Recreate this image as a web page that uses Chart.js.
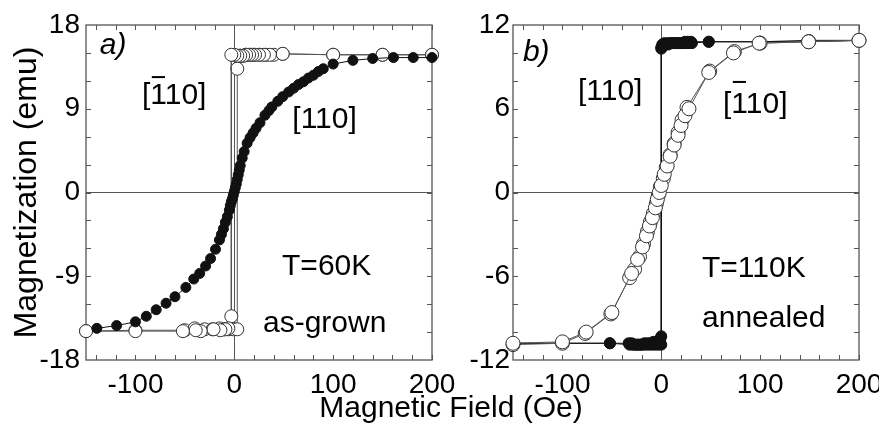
<!DOCTYPE html>
<html>
<head>
<meta charset="utf-8">
<script src="https://cdn.jsdelivr.net/npm/chart.js@4.4.1/dist/chart.umd.min.js"></script>
<style>
  html, body { margin: 0; padding: 0; background: #fff; overflow: hidden; }
  body { width: 879px; height: 426px; position: relative; }
  #panelA { position: absolute; left: 0; top: 0; }
  #panelB { position: absolute; left: 440px; top: 0; }
  #fieldTitle {
    position: absolute; left: 0; width: 902px; top: 392px;
    text-align: center; color: #000;
    font: 30px 'Liberation Sans', Arial, sans-serif; line-height: 30px;
  }
</style>
</head>
<body>
<canvas id="panelA" width="470" height="426"></canvas>
<canvas id="panelB" width="460" height="426"></canvas>
<div id="fieldTitle">Magnetic Field (Oe)</div>
<script>
// a) as-grown, T=60K -- [110] (filled)
const fieldA110 = [-139,-119,-100,-89,-79,-69,-60,-49,-41,-35,-29,-24,-19,-15,-13,-11,-9,-7,-5,-4,-3,-2,-1,0,1,2,3,4,5,6,8,10,13,16,19,22,26,31,35,38,44,49,55,60,65,70,75,80,85,90,100,120,140,161,181,200];
const magA110 = [-14.6,-14.3,-13.9,-13.3,-12.6,-11.9,-11.2,-10.2,-9.3,-8.7,-7.9,-7.1,-6.1,-5.1,-4.5,-3.9,-3.2,-2.6,-1.9,-1.4,-1.0,-0.7,-0.3,0.1,0.5,0.9,1.4,1.9,2.4,2.9,3.7,4.4,5.3,5.9,6.4,6.9,7.5,8.3,8.8,9.2,9.8,10.3,10.8,11.2,11.6,11.9,12.3,12.6,13.0,13.3,13.8,14.2,14.4,14.5,14.5,14.5];

// a) [-110] (open), down and up sweeps
const fieldA1b10Down = [200,150,100,49,36,30,25,21,18,15,12,9,6,3,0,-3,-3,-6,-9,-14,-21,-34,-39,-52,-100,-150];
const magA1b10Down = [14.8,14.8,14.8,14.9,14.8,14.8,14.8,14.8,14.8,14.8,14.8,14.7,14.7,14.7,14.8,14.8,-13.3,-14.6,-14.7,-14.8,-14.7,-14.9,-14.8,-14.9,-14.9,-14.9];
const fieldA1b10Up = [-150,-100,-50,-40,-30,-22,-15,-10,-6,-1,3,3,6,9,12,16,20,26,32,40,49,100,150,200];
const magA1b10Up = [-14.9,-14.8,-14.8,-14.6,-14.7,-14.7,-14.6,-14.7,-14.7,-14.7,-14.7,13.3,14.7,14.7,14.8,14.8,14.8,14.8,14.8,14.8,14.9,14.8,14.8,14.8];

// b) annealed, T=110K -- [110] (filled), down and up sweeps
const fieldB110Down = [200,150,100,48,31,28,25,22,19,16,13,10,7,4,2,0,0,-3,-6,-9,-12,-15,-18,-21,-24,-27,-30,-33,-52,-100,-150];
const magB110Down = [10.9,10.8,10.8,10.8,10.7,10.7,10.7,10.7,10.7,10.7,10.7,10.7,10.6,10.6,10.5,10.3,-10.9,-10.9,-10.9,-10.9,-10.9,-10.9,-10.9,-10.9,-10.9,-10.9,-10.8,-10.8,-10.8,-10.8,-10.8];
const fieldB110Up = [-150,-100,-52,-32,-29,-26,-23,-20,-17,-14,-11,-8,-5,-3,-1,0,0,1,3,6,9,12,15,18,21,24,27,30,48,100,150,200];
const magB110Up = [-10.8,-10.8,-10.8,-10.9,-10.9,-10.9,-10.9,-10.9,-10.8,-10.8,-10.8,-10.7,-10.7,-10.6,-10.5,-10.3,10.4,10.6,10.7,10.7,10.7,10.7,10.7,10.7,10.7,10.8,10.8,10.8,10.8,10.8,10.9,10.9];

// b) [-110] (open)
const fieldB1b10Up = [-150,-100,-76,-50,-30,-24,-19,-15,-12,-9,-6,-4,-2,0,3,6,9,13,17,20,24,28,48,73,99,149,200];
const magB1b10Up = [-10.8,-10.7,-10.0,-8.6,-5.8,-4.8,-3.9,-3.1,-2.4,-1.8,-1.1,-0.5,0.0,0.5,1.3,1.9,2.6,3.4,4.1,4.8,5.5,6.0,8.6,10.0,10.7,10.8,10.9];
const fieldB1b10Down = [200,149,100,74,49,26,21,17,13,9,5,2,-1,-3,-5,-8,-11,-14,-18,-22,-27,-32,-51,-77,-100,-150];
const magB1b10Down = [10.9,10.8,10.7,10.1,8.7,6.1,5.2,4.3,3.5,2.7,1.8,1.0,0.4,-0.2,-0.8,-1.5,-2.1,-2.8,-3.7,-4.6,-5.5,-6.1,-8.7,-10.1,-10.8,-10.9];

// axis ticks
const fieldTicks = [-100, 0, 100, 200];
const fieldMinor = [-140,-120,-100,-80,-60,-40,-20,0,20,40,60,80,100,120,140,160,180,200];
const magTicksA = [-18, -9, 0, 9, 18];
const magMinorA = [-15,-12,-9,-6,-3,0,3,6,9,12,15];
const magTicksB = [-12, -6, 0, 6, 12];
const magMinorB = [-10,-8,-6,-4,-2,0,2,4,6,8,10];

Chart.defaults.font.family = "'Liberation Sans', Arial, sans-serif";
Chart.defaults.color = '#000';

const pares = (xs, ys) => xs.map((x, i) => ({ x: x, y: ys[i] }));

function cheios(xs, ys, r) {
    return {
        data: pares(xs, ys), showLine: true, clip: false,
        borderColor: '#111', borderWidth: 1,
        pointRadius: r, pointBackgroundColor: '#111', pointBorderColor: '#111', pointBorderWidth: 1
    };
}

function vazios(xs, ys, r) {
    return {
        data: pares(xs, ys), showLine: true, clip: false,
        borderColor: '#555', borderWidth: 1,
        pointRadius: r, pointBackgroundColor: '#fff', pointBorderColor: '#333', pointBorderWidth: 1
    };
}

// frame, inward ticks on all four sides, and the text labels
const moldura = {
    id: 'moldura',
    beforeDatasetsDraw(chart, args, opts) {
        const { ctx, chartArea: a, scales: { x, y } } = chart;
        ctx.save();
        ctx.strokeStyle = '#555';
        ctx.lineWidth = 1;
        ctx.beginPath();
        opts.xMinor.forEach(v => {
            const px = Math.round(x.getPixelForValue(v)) + 0.5;
            ctx.moveTo(px, a.bottom); ctx.lineTo(px, a.bottom - 5);
            ctx.moveTo(px, a.top); ctx.lineTo(px, a.top + 5);
        });
        opts.yMinor.forEach(v => {
            const py = Math.round(y.getPixelForValue(v)) + 0.5;
            ctx.moveTo(a.left, py); ctx.lineTo(a.left + 5, py);
            ctx.moveTo(a.right, py); ctx.lineTo(a.right - 5, py);
        });
        ctx.stroke();
        ctx.lineWidth = 1.3;
        ctx.strokeRect(a.left, a.top, a.width, a.height);
        ctx.restore();
    },
    afterDraw(chart, args, opts) {
        const { ctx, scales: { x, y } } = chart;
        ctx.save();
        ctx.fillStyle = '#000';
        ctx.strokeStyle = '#000';
        ctx.textBaseline = 'alphabetic';
        ctx.textAlign = 'left';
        opts.labels.forEach(l => {
            ctx.font = (l.italic ? 'italic ' : '') + "30px 'Liberation Sans', Arial, sans-serif";
            const px = x.getPixelForValue(l.x);
            const py = y.getPixelForValue(l.y);
            ctx.fillText(l.text, px, py);
            if (l.bar) {
                // bar over the first "1" of [110]
                const wb = ctx.measureText('[').width;
                const w1 = ctx.measureText('1').width;
                ctx.lineWidth = 2;
                ctx.beginPath();
                ctx.moveTo(px + wb + 1.5, py - l.bar);
                ctx.lineTo(px + wb + w1 - 2, py - l.bar);
                ctx.stroke();
            }
        });
        ctx.restore();
    }
};

function painel(canvas, p) {
    return new Chart(canvas.getContext('2d'), {
        type: 'scatter',
        data: { datasets: p.datasets },
        options: {
            responsive: false,
            animation: false,
            devicePixelRatio: 1,
            layout: { padding: { top: 25, right: p.padRight, bottom: 0, left: 0 } },
            plugins: {
                legend: { display: false },
                tooltip: { enabled: false },
                moldura: { xMinor: fieldMinor, yMinor: p.yMinor, labels: p.labels }
            },
            scales: {
                x: {
                    type: 'linear', min: -150, max: 200,
                    afterBuildTicks: s => { s.ticks = fieldTicks.map(v => ({ value: v })); },
                    afterFit: s => { s.height = 66; },
                    border: { display: false },
                    grid: { drawTicks: false, lineWidth: 1, color: c => (c.tick && c.tick.value === 0) ? '#555' : 'rgba(0,0,0,0)' },
                    ticks: { font: { size: 28 }, color: '#000', padding: 8, maxRotation: 0, autoSkip: false }
                },
                y: {
                    type: 'linear', min: p.yMin, max: p.yMax,
                    afterBuildTicks: s => { s.ticks = p.yTicks.map(v => ({ value: v })); },
                    afterFit: s => { s.width = p.yWidth; },
                    border: { display: false },
                    grid: { drawTicks: false, lineWidth: 1, color: c => (c.tick && c.tick.value === 0) ? '#555' : 'rgba(0,0,0,0)' },
                    ticks: { font: { size: 28 }, color: '#000', padding: p.yPad, autoSkip: false },
                    title: {
                        display: !!p.yTitle, text: p.yTitle || '',
                        font: { size: 32 }, color: '#000', padding: { top: 8, bottom: 0 }
                    }
                }
            }
        },
        plugins: [moldura]
    });
}

painel(document.getElementById('panelA'), {
    datasets: [
        cheios(fieldA110, magA110, 5),
        vazios(fieldA1b10Down, magA1b10Down, 6.5),
        vazios(fieldA1b10Up, magA1b10Up, 6.5)
    ],
    padRight: 38, yWidth: 86, yPad: 6,
    yMin: -18, yMax: 18, yTicks: magTicksA, yMinor: magMinorA,
    yTitle: 'Magnetization (emu)',
    labels: [
        { text: 'a)', x: -136, y: 14.9, italic: true },
        { text: '[110]', x: -93.4, y: 9.5, bar: 27 },
        { text: '[110]', x: 58.7, y: 6.9 },
        { text: 'T=60K', x: 48.3, y: -8.9 },
        { text: 'as-grown', x: 29, y: -15.0 }
    ]
});

painel(document.getElementById('panelB'), {
    datasets: [
        vazios(fieldB1b10Up, magB1b10Up, 7),
        vazios(fieldB1b10Down, magB1b10Down, 7),
        cheios(fieldB110Down, magB110Down, 5.5),
        cheios(fieldB110Up, magB110Up, 5.5)
    ],
    padRight: 41, yWidth: 73, yPad: 3,
    yMin: -12, yMax: 12, yTicks: magTicksB, yMinor: magMinorB,
    yTitle: '',
    labels: [
        { text: 'b)', x: -140, y: 9.42, italic: true },
        { text: '[110]', x: -84.3, y: 6.63 },
        { text: '[110]', x: 62.4, y: 5.7, bar: 31 },
        { text: 'T=110K', x: 41.2, y: -6.05 },
        { text: 'annealed', x: 41.2, y: -9.64 }
    ]
});
</script>
</body>
</html>
